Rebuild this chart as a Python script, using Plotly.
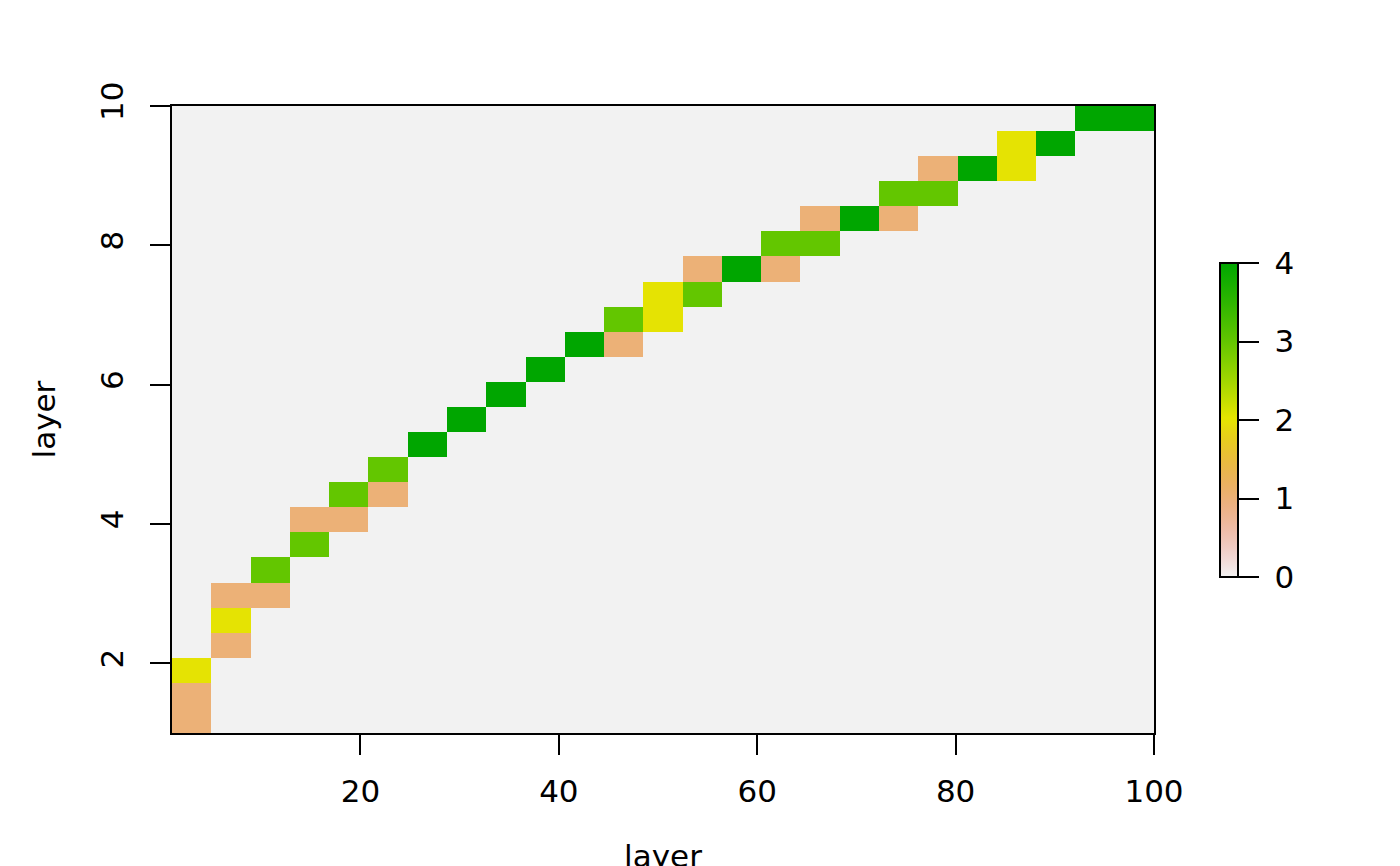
import colorsys
import numpy as np
import plotly.graph_objects as go

# grid extent (raster 25 x 25 covering x 1..100, y 1..10)
x_min, x_max, n_cols = 1, 100, 25
y_min, y_max, n_rows = 1, 10, 25

# non-background cells: column index, row index (from bottom), value
cell_col = [0, 0, 0, 1, 1, 1, 2, 2, 3, 3, 4, 4, 5, 5, 6, 7, 8, 9, 10,
            11, 11, 12, 12, 13, 13, 14, 15, 15, 16, 16, 17, 18, 18, 19, 19,
            20, 21, 21, 22, 23, 24]
cell_row = [0, 1, 2, 3, 4, 5, 5, 6, 7, 8, 8, 9, 9, 10, 11, 12, 13, 14, 15,
            15, 16, 16, 17, 17, 18, 18, 18, 19, 19, 20, 20, 20, 21, 21, 22,
            22, 22, 23, 23, 24, 24]
cell_val = [1, 1, 2, 1, 2, 1, 1, 3, 3, 1, 1, 3, 1, 3, 4, 4, 4, 4, 4,
            1, 3, 2, 2, 3, 1, 4, 1, 3, 3, 1, 4, 1, 3, 3, 1,
            4, 2, 2, 4, 4, 4]

x_ticks = [20, 40, 60, 80, 100]
y_ticks = [2, 4, 6, 8, 10]
cb_ticks = [0, 1, 2, 3, 4]


def terrain_colors(n):
    k = n // 2
    out = []
    hs = np.linspace(4 / 12, 2 / 12, k)
    ss = np.linspace(1, 1, k)
    vs = np.linspace(0.65, 0.9, k)
    for h, s, v in zip(hs, ss, vs):
        out.append(colorsys.hsv_to_rgb(h, s, v))
    m = n - k + 1
    hs = np.linspace(2 / 12, 0, m)[1:]
    ss = np.linspace(1, 0, m)[1:]
    vs = np.linspace(0.9, 0.95, m)[1:]
    for h, s, v in zip(hs, ss, vs):
        out.append(colorsys.hsv_to_rgb(h, s, v))
    return out


cols = terrain_colors(255)[::-1]
idx = np.linspace(0, 254, 64).round().astype(int)
colorscale = []
for i in idx:
    r, g, b = cols[i]
    colorscale.append([i / 254, "rgb(%d,%d,%d)" % (round(r * 255), round(g * 255), round(b * 255))])

z = np.zeros((n_rows, n_cols))
for c, r, v in zip(cell_col, cell_row, cell_val):
    z[r, c] = v

x_edges = np.linspace(x_min, x_max, n_cols + 1)
y_edges = np.linspace(y_min, y_max, n_rows + 1)
x_centers = (x_edges[:-1] + x_edges[1:]) / 2
y_centers = (y_edges[:-1] + y_edges[1:]) / 2

FONT = "DejaVu Sans"
FS = 31

fig = go.Figure(go.Heatmap(
    z=z, x=x_centers, y=y_centers,
    colorscale=colorscale, zmin=0, zmax=4,
    colorbar=dict(
        x=(1220 - 172) / 982, xanchor="left", xpad=0,
        y=0.4992, yanchor="middle", ypad=0,
        thickness=18, thicknessmode="pixels",
        len=314, lenmode="pixels",
        outlinecolor="black", outlinewidth=2,
        ticks="outside", ticklen=20, tickwidth=2, tickcolor="black",
        tickvals=cb_ticks, ticktext=[" " + str(t) for t in cb_ticks],
        tickfont=dict(family=FONT, size=FS, color="black"),
    ),
    hoverinfo="skip",
))

fig.update_layout(
    width=1400, height=866,
    margin=dict(l=164, r=254, t=98, b=141, autoexpand=False),
    paper_bgcolor="white", plot_bgcolor="#F2F2F2",
    font=dict(family=FONT, size=FS, color="black"),
    xaxis=dict(
        range=[x_min, x_max], tickvals=x_ticks, ticktext=[str(t) for t in x_ticks],
        showline=True, mirror=True, linecolor="black", linewidth=2,
        ticks="outside", ticklen=20, tickwidth=2, tickcolor="black",
        ticklabelstandoff=10,
        showgrid=False, zeroline=False, automargin=False,
        title=dict(text="layer", standoff=78, font=dict(family=FONT, size=FS)),
    ),
    yaxis=dict(
        range=[y_min, y_max], tickvals=y_ticks, ticktext=[str(t) for t in y_ticks],
        showline=True, mirror=True, linecolor="black", linewidth=2,
        ticks="outside", ticklen=20, tickwidth=2, tickcolor="black",
        tickangle=-90, ticklabelstandoff=15,
        showgrid=False, zeroline=False, automargin=False,
        title=dict(text="layer", standoff=29, font=dict(family=FONT, size=FS)),
    ),
)

fig.write_html("out.html")
